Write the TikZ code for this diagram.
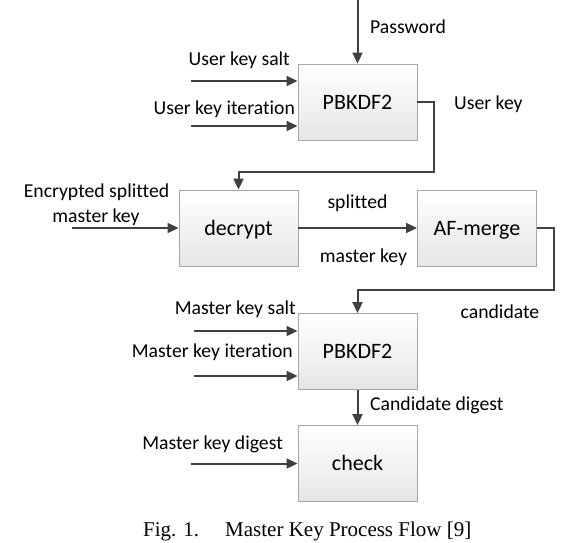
\documentclass[tikz,border=0pt]{standalone}
\usepackage{fontspec}
\setmainfont{Carlito}[Ligatures={NoCommon}]
\newfontfamily\capfont{Liberation Serif}
\usetikzlibrary{arrows.meta}
\definecolor{linegray}{HTML}{404040}
\definecolor{boxedge}{HTML}{A6A6A6}
\definecolor{boxbot}{HTML}{E6E6E6}
\begin{document}
\begin{tikzpicture}[x=1pt,y=-1pt,
  blk/.style={draw=boxedge, line width=0.9pt, top color=white, bottom color=boxbot,
    minimum width=119pt, minimum height=76pt, inner sep=0pt,
    text height=14pt, text depth=0pt, font=\fontsize{22}{26}\selectfont},
  lbl/.style={inner sep=0pt, font=\fontsize{19.7}{24}\selectfont, text=black},
  flow/.style={draw=linegray, line width=2pt, -{Triangle[length=11pt,width=10pt]}},
  figcap/.style={inner sep=0pt, font=\capfont\fontsize{21}{25}\selectfont}]
\useasboundingbox (0,0) rectangle (579,542);

% blocks
\node[blk] (pb1) at (357.5,102) {PBKDF2};
\node[blk] (dec) at (238.5,228) {decrypt};
\node[blk] (af)  at (477,228) {AF-merge};
\node[blk] (pb2) at (357.5,351.5) {PBKDF2};
\node[blk] (chk) at (357.5,463.5) {check};

% free ends
\coordinate (pw)  at (357.5,0);
\coordinate (uks) at (191,81);
\coordinate (uki) at (191,126);
\coordinate (ukc) at (434,172);
\coordinate (enc) at (72,228);
\coordinate (cdc) at (554,290);
\coordinate (mks) at (194,331);
\coordinate (mki) at (194,376);
\coordinate (mkd) at (191,463.5);

% connectors
\draw[flow] (pw) -- (pb1.north);
\draw[flow] (uks) -- (uks -| pb1.west);
\draw[flow] (uki) -- (uki -| pb1.west);
\draw[flow] (pb1.east) -| (ukc) -| (dec.north);
\draw[flow] (enc) -- (dec.west);
\draw[flow] (dec.east) -- (af.west);
\draw[flow] (af.east) -| (cdc) -| (pb2.north);
\draw[flow] (mks) -- (mks -| pb2.west);
\draw[flow] (mki) -- (mki -| pb2.west);
\draw[flow] (pb2.south) -- (chk.north);
\draw[flow] (mkd) -- (chk.west);

% labels
\node[lbl, anchor=base west] (lpw) at (370,33) {Password};
\node[lbl, anchor=base east] (luks) at (290,65) {User key salt};
\node[lbl, anchor=base east] (luki) at (295,114) {User key iteration};
\node[lbl, anchor=base west] (luk) at (454,109) {User key};
\node[lbl, anchor=base] (lenc1) at (96.5,197) {Encrypted splitted};
\node[lbl, anchor=base] (lenc2) at (96,222) {master key};
\node[lbl, anchor=base] (lspl) at (357.5,208) {splitted};
\node[lbl, anchor=base] (lmk) at (363.5,262.5) {master key};
\node[lbl, anchor=base] (lcand) at (500,318) {candidate};
\node[lbl, anchor=base east] (lmks) at (296,314) {Master key salt};
\node[lbl, anchor=base east] (lmki) at (293,357) {Master key iteration};
\node[lbl, anchor=base west] (lcd) at (370,410) {Candidate digest};
\node[lbl, anchor=base east] (lmkd) at (283,449) {Master key digest};

% caption
\node[figcap, anchor=base west] (caption) at (143,536) {Fig. 1.\hspace{26pt}Master Key Process Flow [9]};
\end{tikzpicture}
\end{document}
